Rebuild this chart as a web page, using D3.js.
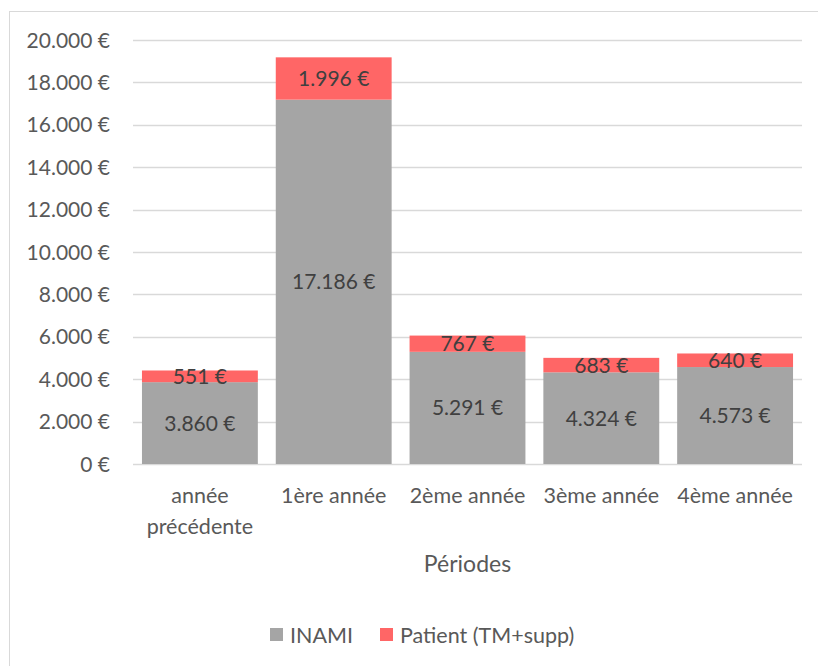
<!DOCTYPE html>
<html>
<head>
<meta charset="utf-8">
<script src="https://cdn.jsdelivr.net/npm/d3@7"></script>
<style>
  body { margin: 0; background: #fff; }
  text { font-family: Lato, "Open Sans", sans-serif; }
</style>
</head>
<body>
<svg id="chart" width="818" height="666"></svg>
<script>
const periods = ['année précédente', '1ère année', '2ème année', '3ème année', '4ème année'];
const inami = [3860, 17186, 5291, 4324, 4573];
const patient = [551, 1996, 767, 683, 640];
const seriesNames = ['INAMI', 'Patient (TM+supp)'];
const yTicks = [0, 2000, 4000, 6000, 8000, 10000, 12000, 14000, 16000, 18000, 20000];

const colors = ['#a5a5a5', '#ff6666'];
const textColor = '#595959';

const fmt = v => d3.format(',')(v).replace(/,/g, '.') + ' €';

const svg = d3.select('#chart');

// outer chart border
svg.append('rect')
  .attr('x', 9.5).attr('y', 11.5)
  .attr('width', 820).attr('height', 670)
  .attr('fill', 'none').attr('stroke', '#d9d9d9');

const plot = { left: 133, right: 802, top: 40, bottom: 464 };

const x = d3.scaleBand()
  .domain(periods)
  .range([plot.left, plot.right])
  .paddingInner(0.134)
  .paddingOuter(0.067);

const y = d3.scaleLinear()
  .domain([0, 20000])
  .range([plot.bottom, plot.top]);

// gridlines
svg.append('g')
  .selectAll('line')
  .data(yTicks)
  .join('line')
  .attr('x1', plot.left).attr('x2', plot.right)
  .attr('y1', d => Math.round(y(d)) + 0.5)
  .attr('y2', d => Math.round(y(d)) + 0.5)
  .attr('stroke', '#d9d9d9')
  .attr('stroke-width', 1.3);

// y axis labels
svg.append('g')
  .selectAll('text')
  .data(yTicks)
  .join('text')
  .attr('x', 110)
  .attr('y', d => y(d))
  .attr('dy', '0.36em')
  .attr('text-anchor', 'end')
  .attr('fill', textColor)
  .style('font-size', '21px')
  .text(fmt);

const rows = periods.map((p, i) => ({ period: p, inami: inami[i], patient: patient[i] }));
const stack = d3.stack().keys(['inami', 'patient'])(rows);

const layers = svg.append('g')
  .selectAll('g')
  .data(stack)
  .join('g')
  .attr('fill', (d, i) => colors[i]);

layers.selectAll('rect')
  .data(d => d)
  .join('rect')
  .attr('x', d => x(d.data.period))
  .attr('width', x.bandwidth())
  .attr('y', d => y(d[1]))
  .attr('height', d => y(d[0]) - y(d[1]));

// data labels
svg.append('g')
  .selectAll('g')
  .data(stack)
  .join('g')
  .selectAll('text')
  .data(d => d.map(s => ({ s, key: d.key })))
  .join('text')
  .attr('x', d => x(d.s.data.period) + x.bandwidth() / 2)
  .attr('y', d => (y(d.s[0]) + y(d.s[1])) / 2)
  .attr('dy', '0.36em')
  .attr('text-anchor', 'middle')
  .attr('fill', '#404040')
  .style('font-size', '21px')
  .text(d => fmt(d.s.data[d.key]));

// category labels
const cat = svg.append('g')
  .selectAll('text')
  .data(periods)
  .join('text')
  .attr('x', d => x(d) + x.bandwidth() / 2)
  .attr('y', 503)
  .attr('text-anchor', 'middle')
  .attr('fill', textColor)
  .style('font-size', '21.5px');

cat.each(function (d) {
  const t = d3.select(this);
  const lines = d === 'année précédente' ? ['année', 'précédente'] : [d];
  lines.forEach((l, i) => {
    t.append('tspan')
      .attr('x', x(d) + x.bandwidth() / 2)
      .attr('dy', i === 0 ? 0 : 31)
      .text(l);
  });
});

// axis title
svg.append('text')
  .attr('x', (plot.left + plot.right) / 2)
  .attr('y', 572)
  .attr('text-anchor', 'middle')
  .attr('fill', textColor)
  .style('font-size', '23px')
  .text('Périodes');

// legend
const legend = svg.append('g');
const legendX = [270, 380];
seriesNames.forEach((name, i) => {
  legend.append('rect')
    .attr('x', legendX[i]).attr('y', 628)
    .attr('width', 13).attr('height', 13)
    .attr('fill', colors[i]);
  legend.append('text')
    .attr('x', legendX[i] + 20).attr('y', 635)
    .attr('dy', '0.36em')
    .attr('fill', textColor)
    .style('font-size', '21.5px')
    .text(name);
});
</script>
</body>
</html>
